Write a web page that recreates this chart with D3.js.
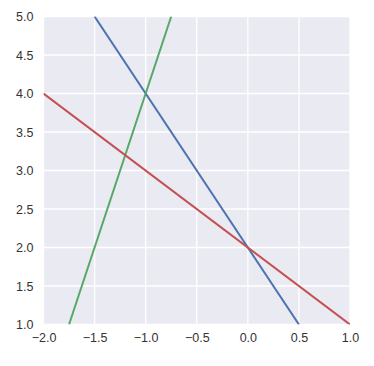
<!DOCTYPE html>
<html><head><meta charset="utf-8">
<script src="https://cdn.jsdelivr.net/npm/d3@7"></script>
<style>body{margin:0;background:#fff}</style>
</head><body>
<svg id="c" width="374" height="366"></svg>
<script>
const xTicks = [-2.0, -1.5, -1.0, -0.5, 0.0, 0.5, 1.0];
const yTicks = [1.0, 1.5, 2.0, 2.5, 3.0, 3.5, 4.0, 4.5, 5.0];
const blueLine = [[-1.5, 5], [0.5, 1]];
const greenLine = [[-1.75, 1], [-0.75, 5]];
const redLine = [[-2, 4], [1, 1]];
const colors = ["#4C72B0", "#55A868", "#C44E52"];

const svg = d3.select("#c");
const m = {l: 43.5, r: 350, t: 16.5, b: 324.5};
const x = d3.scaleLinear().domain([-2, 1]).range([m.l, m.r]);
const y = d3.scaleLinear().domain([1, 5]).range([m.b, m.t]);

svg.append("rect").attr("x", m.l).attr("y", m.t).attr("width", m.r - m.l).attr("height", m.b - m.t).attr("fill", "#EAEAF2");

const g = svg.append("g");
g.selectAll(".gx").data(xTicks).join("line").attr("x1", d => x(d)).attr("x2", d => x(d)).attr("y1", m.t).attr("y2", m.b).attr("stroke", "#fff").attr("stroke-width", 1.3);
g.selectAll(".gy").data(yTicks).join("line").attr("y1", d => y(d)).attr("y2", d => y(d)).attr("x1", m.l).attr("x2", m.r).attr("stroke", "#fff").attr("stroke-width", 1.3);

const xAxis = d3.axisBottom(x).tickValues(xTicks).tickFormat(d3.format(".1f")).tickSize(0).tickPadding(9);
const yAxis = d3.axisLeft(y).tickValues(yTicks).tickFormat(d3.format(".1f")).tickSize(0).tickPadding(10);
const ax = svg.append("g").attr("transform", `translate(0,${m.b})`).call(xAxis);
const ay = svg.append("g").attr("transform", `translate(${m.l},0)`).call(yAxis);
[ax, ay].forEach(a => {
  a.select(".domain").remove();
  a.selectAll("text").attr("fill", "#333").style("font-family", "Arial, 'Liberation Sans', sans-serif").style("font-size", "12.5px");
});
ax.selectAll("text").text(d => d3.format(".1f")(d).replace("-", "\u2212"));

const line = d3.line().x(d => x(d[0])).y(d => y(d[1]));
svg.append("clipPath").attr("id", "clip").append("rect").attr("x", m.l).attr("y", m.t).attr("width", m.r - m.l).attr("height", m.b - m.t);
[blueLine, greenLine, redLine].forEach((d, i) => {
  svg.append("path").datum(d).attr("d", line).attr("fill", "none").attr("stroke", colors[i]).attr("stroke-width", 2).attr("clip-path", "url(#clip)");
});
</script>
</body></html>
